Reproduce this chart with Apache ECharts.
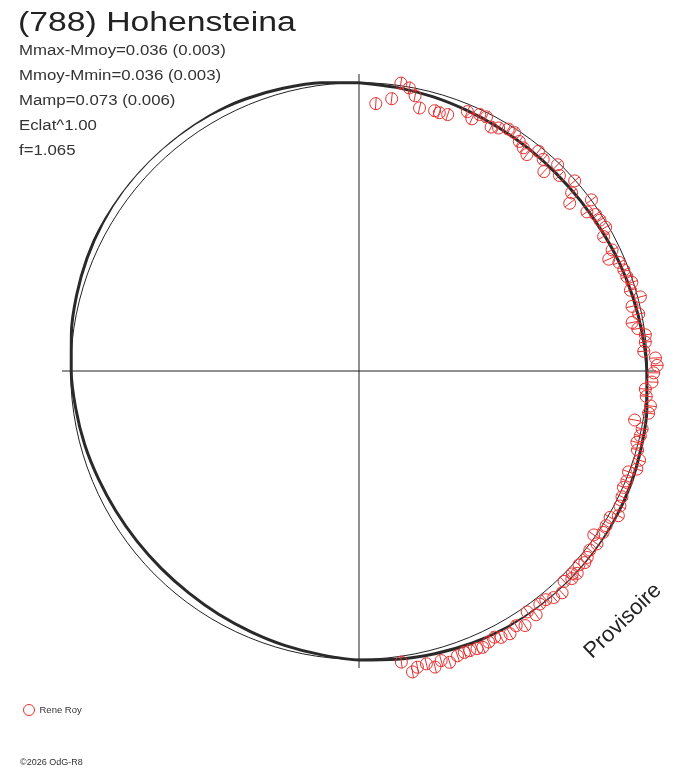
<!DOCTYPE html>
<html>
<head>
<meta charset="utf-8">
<script src="https://cdn.jsdelivr.net/npm/echarts@6/dist/echarts.min.js"></script>
<style>
html,body{margin:0;padding:0;background:#fff;}
#chart{width:688px;height:768px;}
</style>
</head>
<body>
<div id="chart"></div>
<script>
// Rotational phase (0..1, clockwise from top) and relative flux (1 = mean) of observations
const obsPhase = [0.010,0.019,0.023,0.028,0.032,0.036,0.045,0.048,0.053,0.063,0.067,0.070,0.074,0.079,0.083,0.088,0.092,0.097,0.101,0.105,
  0.109,0.114,0.119,0.122,0.127,0.135,0.139,0.143,0.149,0.153,0.157,0.161,0.166,0.170,0.179,0.183,0.187,0.192,0.196,0.200,
  0.204,0.209,0.213,0.218,0.222,0.226,0.230,0.234,0.239,0.243,0.247,0.251,0.256,0.260,0.264,0.269,0.273,0.278,0.282,0.286,
  0.290,0.294,0.299,0.304,0.307,0.312,0.316,0.321,0.326,0.331,0.334,0.339,0.343,0.347,0.350,0.355,0.359,0.362,0.365,0.369,
  0.371,0.373,0.377,0.382,0.387,0.391,0.395,0.400,0.403,0.408,0.412,0.417,0.422,0.425,0.429,0.433,0.436,0.440,0.443,0.447,
  0.452,0.456,0.460,0.464,0.469,0.472,0.477];
const obsFlux = [0.929,0.951,1.009,0.997,0.974,0.936,0.940,0.938,0.941,0.975,0.958,0.983,0.986,0.962,0.972,0.986,0.987,0.971,0.961,0.950,
  0.984,0.973,0.943,0.993,0.971,0.997,0.962,0.934,1.001,0.964,0.984,0.986,0.990,0.968,0.973,0.949,0.977,0.983,0.985,0.995,
  0.982,1.009,0.973,0.990,0.962,0.978,1.001,0.998,0.990,1.029,1.034,1.022,1.017,0.995,1.000,1.018,1.015,0.971,1.002,1.001,
  0.995,1.004,1.021,1.022,0.998,1.004,1.002,1.011,1.019,1.030,1.008,1.011,1.015,0.993,1.020,1.013,1.022,1.027,1.017,1.032,
  1.021,1.031,1.019,1.043,1.036,1.024,1.023,1.045,1.019,1.054,1.038,1.051,1.047,1.036,1.042,1.050,1.046,1.043,1.042,1.045,
  1.058,1.044,1.060,1.042,1.047,1.060,1.020];
const obsErr = 0.022;

// Fitted light curve (relative flux) read every 1/48 of phase
const fitPhase = [0,0.0208,0.0417,0.0625,0.0833,0.1042,0.125,0.1458,0.1667,0.1875,0.2083,0.2292,
  0.25,0.2708,0.2917,0.3125,0.3333,0.3542,0.375,0.3958,0.4167,0.4375,0.4583,0.4792,
  0.5,0.5208,0.5417,0.5625,0.5833,0.6042,0.625,0.6458,0.6667,0.6875,0.7083,0.7292,
  0.75,0.7708,0.7917,0.8125,0.8333,0.8542,0.875,0.8958,0.9167,0.9375,0.9583,0.9792,1];
const fitFlux = [1.000,0.992,0.985,0.978,0.973,0.970,0.968,0.969,0.972,0.978,0.984,0.991,
  0.998,1.007,1.014,1.021,1.026,1.030,1.031,1.030,1.027,1.022,1.015,1.008,
  1.002,0.993,0.986,0.979,0.974,0.970,0.969,0.970,0.973,0.978,0.985,0.991,
  0.998,1.006,1.014,1.021,1.027,1.031,1.032,1.031,1.028,1.022,1.015,1.008,1.000];

// Radius ticks: the mean-flux reference circle is drawn at 1.0
const radiusMax = 1.03;
const refFlux = 1.0;

const titleText = '(788) Hohensteina';
const infoLines = ['Mmax-Mmoy=0.036 (0.003)','Mmoy-Mmin=0.036 (0.003)','Mamp=0.073 (0.006)','Eclat^1.00','f=1.065'];
const observer = 'Rene Roy';

const RED = '#e83030';
const FONT = '"Liberation Sans", Arial, sans-serif';

const chart = echarts.init(document.getElementById('chart'), null, {renderer:'canvas'});

const graphics = [
  {type:'text', x:18, y:24, scaleX:1.25, style:{text:titleText, font:'27px ' + FONT, fill:'#222', verticalAlign:'middle', align:'left'}},
  {type:'text', x:623, y:621, rotation:Math.PI*44/180, style:{text:'Provisoire', font:'22px ' + FONT, fill:'#222', verticalAlign:'middle', align:'center'}},
  {type:'text', x:20, y:763, style:{text:'\u00a92026 OdG-R8', font:'9px ' + FONT, fill:'#333', verticalAlign:'middle', align:'left'}}
];
infoLines.forEach((t, i) => {
  graphics.push({type:'text', x:19, y:51 + i * 25, scaleX:1.2, style:{text:t, font:'14px ' + FONT, fill:'#333', verticalAlign:'middle', align:'left'}});
});

chart.setOption({
  backgroundColor:'#fff',
  animation:false,
  polar:{center:[359,371], radius:297},
  angleAxis:{type:'value', min:0, max:1, interval:0.25, startAngle:90, clockwise:true,
    axisLine:{show:false}, axisTick:{show:false}, axisLabel:{show:false},
    splitLine:{show:true, lineStyle:{color:'#222', width:1}}},
  radiusAxis:{type:'value', min:0, max:radiusMax, interval:refFlux, axisLine:{show:false}, axisTick:{show:false},
    axisLabel:{show:false}, splitArea:{show:false},
    splitLine:{show:true, lineStyle:{color:['rgba(0,0,0,0)','#222','rgba(0,0,0,0)'], width:1}}},
  legend:{left:18, top:699, itemWidth:11, itemHeight:11, selectedMode:false,
    textStyle:{fontSize:9.5, color:'#333', fontFamily:FONT},
    data:[{name:observer, icon:'circle', itemStyle:{color:'#fff', borderColor:RED, borderWidth:1}}]},
  graphic:graphics,
  series:[
    {type:'line', name:'fit', coordinateSystem:'polar', smooth:0.3, symbol:'none', clip:false,
      lineStyle:{color:'#2a2a2a', width:3}, data:fitFlux.map((r,i) => [r, fitPhase[i]]), z:3},
    {type:'custom', name:observer, coordinateSystem:'polar', z:4,
      data:obsFlux.map((r,i) => [r, obsPhase[i]]),
      renderItem:function(params, api){
        const r = api.value(0), p = api.value(1);
        const c = api.coord([r, p]);
        const lo = api.coord([r - obsErr, p]);
        const hi = api.coord([r + obsErr, p]);
        return {type:'group', children:[
          {type:'line', shape:{x1:lo[0], y1:lo[1], x2:hi[0], y2:hi[1]}, style:{stroke:RED, lineWidth:1}},
          {type:'circle', shape:{cx:c[0], cy:c[1], r:6}, style:{fill:'none', stroke:RED, lineWidth:1}}
        ]};
      }}
  ]
});
</script>
</body>
</html>
